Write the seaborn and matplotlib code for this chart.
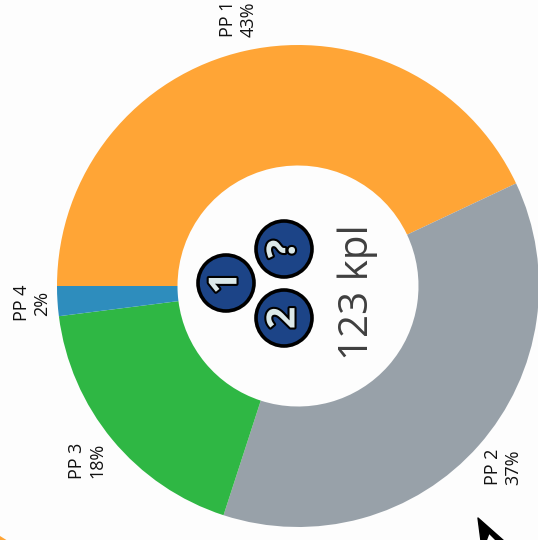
import matplotlib
matplotlib.use('Agg')
import matplotlib.pyplot as plt
import matplotlib.patheffects as pe
from matplotlib.patches import Circle, Polygon
import seaborn as sns

# pie data
names = ['PP 1', 'PP 2', 'PP 3', 'PP 4']
shares = [43, 37, 18, 2]
colors = ['#FFA536', '#98A1A9', '#2FB744', '#2E8DBD']
badges = ['1', '?', '2']
center_text = '123 kpl'

sns.set_theme(style='white')
plt.rcParams['font.family'] = ['Open Sans', 'DejaVu Sans']

W, H = 538, 540
CX, CY, R = 298, 286, 241


def px(x, y):
    # reference pixels to pie units
    return (x - CX) / R, (CY - y) / R


fig = plt.figure(figsize=(W / 100, H / 100), dpi=100, facecolor='#fdfdfd')
ax = fig.add_axes([0, 0, 1, 1])
ax.set_facecolor('#fdfdfd')

labels = [f'{n}\n{s}%' for n, s in zip(names, shares)]
wedges, texts = ax.pie(
    shares,
    labels=labels,
    colors=sns.color_palette(colors),
    startangle=180,
    counterclock=False,
    labeldistance=1.135,
    radius=1,
    wedgeprops={'width': 0.5, 'linewidth': 0},
    textprops={'rotation': 90, 'fontsize': 13, 'color': '#111111', 'linespacing': 1.2},
)
for t in texts:
    t.set_ha('center')
    t.set_va('center')
    t.set_rotation_mode('anchor')
# the small slice label sits closer in
texts[3].set_x(px(32, 0)[0])

ax.set_xlim(-CX / R, (W - CX) / R)
ax.set_ylim((CY - H) / R, CY / R)
ax.set_aspect('equal')
ax.axis('off')

# badges in the hole
spots = [(226, 283), (284, 249), (284, 318)]
for b, (x, y) in zip(badges, spots):
    xy = px(x, y)
    ax.add_patch(Circle(xy, 28 / R, fc='#1C4487', ec='black', lw=2.6, zorder=3))
    ax.text(xy[0], xy[1], b, rotation=90, ha='center', va='center', fontsize=28,
            fontweight='bold', color='#DCE9E9', zorder=4, rotation_mode='anchor',
            path_effects=[pe.withStroke(linewidth=3, foreground='black')])

ax.text(*px(358, 292), center_text, rotation=90, ha='center', va='center',
        fontsize=29, color='#3f3f3f', rotation_mode='anchor')

# bits cut off at the bottom edge
ax.add_patch(Polygon([px(478, 518), px(504, 541), px(497, 541), px(489, 533), px(486, 541), px(481, 541)],
                     fc='black', ec='black', lw=1, joinstyle='round', zorder=3))
ax.add_patch(Polygon([px(0, 536), px(8, 541), px(0, 541)], fc=colors[0], lw=0, zorder=3))

fig.savefig('out.png', dpi=100, facecolor=fig.get_facecolor())
